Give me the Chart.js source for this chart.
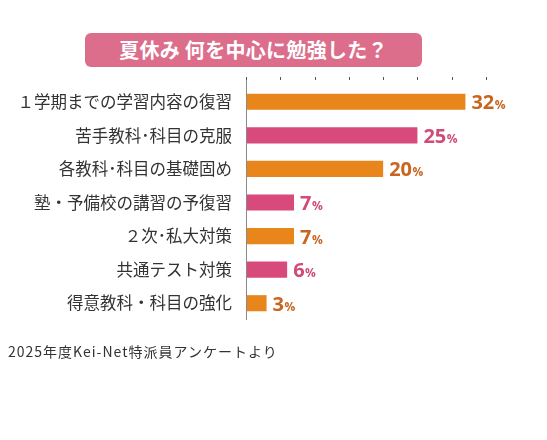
<!DOCTYPE html>
<html lang="ja">
<head>
<meta charset="utf-8">
<script src="https://cdn.jsdelivr.net/npm/chart.js@4"></script>
<style>
  html, body { margin: 0; padding: 0; background: #fff; }
  #wrap { position: relative; width: 547px; height: 440px; }
  #banner {
    position: absolute; left: 85px; top: 33px; width: 337px; height: 34px;
    background: #dc6e8c; border-radius: 6px; color: #fff;
    font: bold 20px "Noto Sans CJK JP", sans-serif; line-height: 34px; text-align: center;
    letter-spacing: 0.3px;
  }
  #source {
    position: absolute; left: 8px; top: 341px; color: #333;
    font: 14px "Noto Sans CJK JP", sans-serif; letter-spacing: 1px;
  }
</style>
</head>
<body>
<div id="wrap">
  <canvas id="chart" width="547" height="440"></canvas>
  <div id="banner">夏休み 何を中心に勉強した？</div>
  <div id="source">2025年度Kei-Net特派員アンケートより</div>
</div>
<script>
const categories = [
  '１学期までの学習内容の復習',
  '苦手教科･科目の克服',
  '各教科･科目の基礎固め',
  '塾・予備校の講習の予復習',
  '２次･私大対策',
  '共通テスト対策',
  '得意教科・科目の強化'
];
const percentValues = [32, 25, 20, 7, 7, 6, 3];
const tickValues = [0, 5, 10, 15, 20, 25, 30, 35];

const barColors = ['#e8861c', '#d94a7c', '#e8861c', '#d94a7c', '#e8861c', '#d94a7c', '#e8861c'];
const textColors = ['#c9651e', '#d04a7a', '#c9651e', '#d04a7a', '#c9651e', '#d04a7a', '#c9651e'];

// axis line + small tick marks along the top
const axisPlugin = {
    id: 'axisMarks',
    afterDraw(chart) {
        const c = chart.ctx;
        const x = chart.scales.x;
        const area = chart.chartArea;
        c.save();
        c.strokeStyle = '#8a8a8a';
        c.lineWidth = 1;
        c.beginPath();
        c.moveTo(Math.round(x.getPixelForValue(0)) + 0.5, area.top - 8);
        c.lineTo(Math.round(x.getPixelForValue(0)) + 0.5, area.bottom);
        c.stroke();
        c.strokeStyle = '#555';
        tickValues.forEach(v => {
            const px = Math.round(x.getPixelForValue(v)) + 0.5;
            c.beginPath();
            c.moveTo(px, area.top - 8);
            c.lineTo(px, area.top - 5);
            c.stroke();
        });
        c.restore();
    }
};

// value labels: big number + small %
const valuePlugin = {
    id: 'valueLabels',
    afterDatasetsDraw(chart) {
        const c = chart.ctx;
        const meta = chart.getDatasetMeta(0);
        c.save();
        c.textBaseline = 'alphabetic';
        c.textAlign = 'left';
        meta.data.forEach((bar, i) => {
            const num = String(percentValues[i]);
            const x = bar.x + 6;
            const y = bar.y + 7.5;
            c.fillStyle = textColors[i];
            c.font = 'bold 20px "Open Sans", sans-serif';
            c.fillText(num, x, y);
            const w = c.measureText(num).width;
            c.font = 'bold 12px "Open Sans", sans-serif';
            c.fillText('%', x + w + 0.5, y);
        });
        c.restore();
    }
};

new Chart(document.getElementById('chart').getContext('2d'), {
    type: 'bar',
    data: {
        labels: categories,
        datasets: [{
            data: percentValues,
            backgroundColor: barColors,
            borderWidth: 0,
            barPercentage: 0.96,
            categoryPercentage: 0.5
        }]
    },
    options: {
        indexAxis: 'y',
        responsive: false,
        animation: false,
        layout: { padding: { left: 0, top: 85, right: 61, bottom: 120 } },
        plugins: {
            legend: { display: false },
            tooltip: { enabled: false }
        },
        scales: {
            x: {
                display: false,
                min: 0,
                max: 35
            },
            y: {
                grid: { display: false },
                border: { display: false },
                ticks: {
                    color: '#333',
                    padding: 6,
                    font: { family: '"Noto Sans CJK JP", sans-serif', size: 16.5 }
                },
                afterFit(scale) { scale.width = 246; }
            }
        }
    },
    plugins: [axisPlugin, valuePlugin]
});
</script>
</body>
</html>
